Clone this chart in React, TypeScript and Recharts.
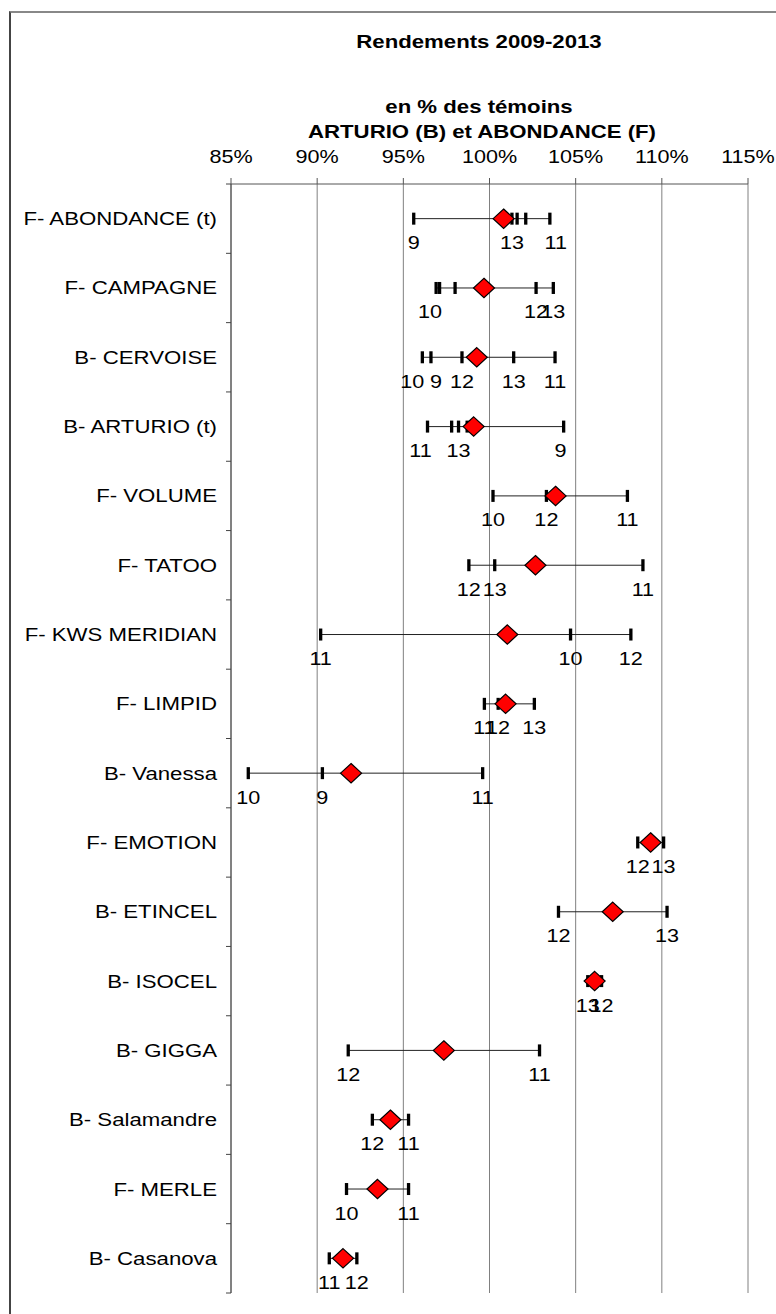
import { ScatterChart, Scatter, XAxis, YAxis, CartesianGrid } from "recharts";

// Variétés (de haut en bas)
const varieties = [
  "F- ABONDANCE (t)",
  "F- CAMPAGNE",
  "B- CERVOISE",
  "B- ARTURIO (t)",
  "F- VOLUME",
  "F- TATOO",
  "F- KWS MERIDIAN",
  "F- LIMPID",
  "B- Vanessa",
  "F- EMOTION",
  "B- ETINCEL",
  "B- ISOCEL",
  "B- GIGGA",
  "B- Salamandre",
  "F- MERLE",
  "B- Casanova",
];

// Rendement en % des témoins, par année (null = pas d'essai)
const years = ["9", "10", "11", "12", "13"];
const r2009 = [95.6, 97.1, 96.6, 104.3, null, null, null, null, 90.3, null, null, null, null, null, null, null];
const r2010 = [101.6, 96.9, 96.1, 97.8, 100.2, null, 104.7, null, 86.0, null, null, null, null, null, 91.7, null];
const r2011 = [103.5, 98.0, 103.8, 96.4, 108.0, 108.9, 90.2, 99.7, 99.6, null, null, null, 102.9, 95.3, 95.3, 90.7];
const r2012 = [102.1, 102.7, 98.4, 98.7, 103.3, 98.8, 108.2, 100.5, null, 108.6, 104.0, 106.5, 91.8, 93.2, null, 92.3];
const r2013 = [101.3, 103.7, 101.4, 98.2, null, 100.3, null, 102.6, null, 110.1, 110.3, 105.7, null, null, null, null];
const yearValues = [r2009, r2010, r2011, r2012, r2013];

// étiquettes masquées sur le graphique d'origine ("ligne-année")
const unlabelled = ["0-10", "0-12", "1-9", "1-11", "3-10", "3-12"];

const xTicks = [85, 90, 95, 100, 105, 110, 115];

const W = 776;
const H = 1314;
const MARGIN = { top: 150, right: 28, bottom: 21, left: 0 };
const X_AXIS_H = 34;
const ROW_H = (H - MARGIN.top - MARGIN.bottom - X_AXIS_H) / varieties.length;
const FONT = '"Liberation Sans", Arial, sans-serif';
const STRETCH = 1.2; // le graphique d'origine est étiré en largeur

// étiquettes déplacées à la main dans l'original (px)
const labelShift: Record<string, number> = { "0-11": 6, "1-10": -6, "2-10": -10, "2-9": 5, "3-11": -7, "3-9": -3 };

const rows = varieties.map((name, i) => {
  const pts = years
    .map((yr, k) => ({
      x: yearValues[k][i],
      y: i + 0.5,
      label: unlabelled.includes(`${i}-${yr}`) ? "" : yr,
      key: `${i}-${yr}`,
    }))
    .filter((p) => p.x != null)
    .sort((a, b) => a.x - b.x);
  const mean = pts.reduce((s, p) => s + p.x, 0) / pts.length;
  return { name, pts, mean };
});
const means = rows.map((r, i) => ({ x: r.mean, y: i + 0.5 }));

const Stretched = ({ x, y, anchor = "middle", size = 17, bold = false, children }: any) => (
  <text
    transform={`translate(${x},${y}) scale(${STRETCH},1)`}
    textAnchor={anchor}
    fontFamily={FONT}
    fontSize={size}
    fontWeight={bold ? "bold" : "normal"}
    fill="#000"
  >
    {children}
  </text>
);

const YearTick = (p: any) => (
  <g>
    <rect x={p.cx - 1.6} y={p.cy - 6} width={3.3} height={12} fill="#000" />
    {p.payload.label ? (
      <Stretched x={p.cx + (labelShift[p.payload.key] || 0)} y={p.cy + 30.5} size={18}>
        {p.payload.label}
      </Stretched>
    ) : null}
  </g>
);

const Diamond = (p: any) => (
  <polygon
    points={`${p.cx},${p.cy - 9.7} ${p.cx + 10.5},${p.cy} ${p.cx},${p.cy + 9.7} ${p.cx - 10.5},${p.cy}`}
    fill="#ff0000"
    stroke="#000"
    strokeWidth={1.2}
  />
);

const CategoryTick = ({ x, y, payload }: any) =>
  payload.value < varieties.length ? (
    <Stretched x={x} y={y + ROW_H / 2 + 6.5} anchor="end" size={18.5}>
      {varieties[payload.value]}
    </Stretched>
  ) : (
    <g />
  );

const PercentTick = ({ x, y, payload }: any) => (
  <Stretched x={x} y={y} size={18}>
    {`${payload.value}%`}
  </Stretched>
);

const App = () => {
  return (
    <div style={{ position: "absolute", left: 0, top: 0, width: W, height: H, background: "#fff" }}>
      <div
        style={{
          position: "absolute",
          left: 9,
          top: 11,
          width: W,
          height: H,
          borderLeft: "2px solid #444",
          borderTop: "2px solid #888",
        }}
      />
      <ScatterChart width={W} height={H} margin={MARGIN}>
        <CartesianGrid horizontal={false} stroke="#808080" />
        <XAxis
          type="number"
          dataKey="x"
          orientation="top"
          domain={[85, 115]}
          ticks={xTicks}
          interval={0}
          height={X_AXIS_H}
          tickSize={6}
          tickMargin={15}
          axisLine={{ stroke: "#555" }}
          tickLine={{ stroke: "#555" }}
          tick={<PercentTick />}
        />
        <YAxis
          type="number"
          dataKey="y"
          domain={[0, varieties.length]}
          reversed
          ticks={varieties.map((_, i) => i).concat(varieties.length)}
          interval={0}
          width={231}
          tickSize={5}
          tickMargin={9}
          axisLine={{ stroke: "#444" }}
          tickLine={{ stroke: "#444" }}
          tick={<CategoryTick />}
        />
        {rows.map((r) => (
          <Scatter
            key={r.name}
            data={r.pts}
            line={{ stroke: "#222", strokeWidth: 1 }}
            shape={<YearTick />}
            isAnimationActive={false}
          />
        ))}
        <Scatter data={means} shape={<Diamond />} isAnimationActive={false} />
      </ScatterChart>
      <svg width={W} height={150} style={{ position: "absolute", left: 0, top: 0, pointerEvents: "none" }}>
        <Stretched x={479} y={48} size={18.5} bold>
          Rendements 2009-2013
        </Stretched>
        <Stretched x={479} y={113} size={18.5} bold>
          en % des témoins
        </Stretched>
        <Stretched x={482} y={138} size={18.5} bold>
          ARTURIO (B) et ABONDANCE (F)
        </Stretched>
      </svg>
    </div>
  );
};

export default App;
